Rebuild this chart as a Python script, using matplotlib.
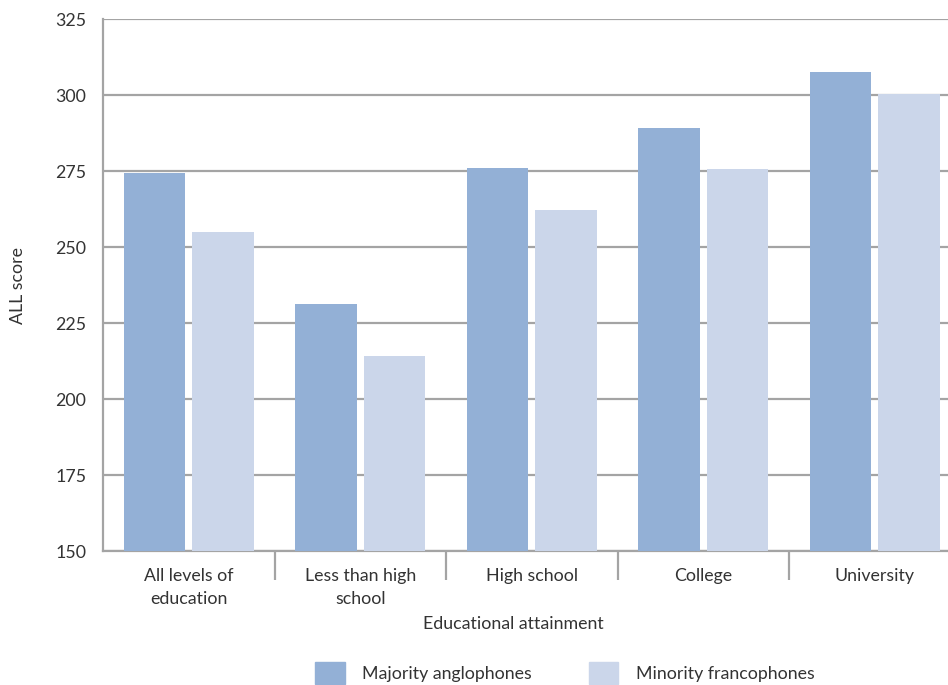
import matplotlib.pyplot as plt
import matplotlib.patches as mpatches
import numpy as np

plt.rcParams['font.family'] = ['Lato', 'DejaVu Sans']

categories = ["All levels of\neducation", "Less than high\nschool", "High school", "College", "University"]
majority = [274.5, 231.3, 276, 289, 307.6]
minority = [255, 214, 262.2, 275.7, 300.3]
series_names = ["Majority anglophones", "Minority francophones"]
yticks = [150, 175, 200, 225, 250, 275, 300, 325]

col_maj = "#93b0d6"
col_min = "#cbd6ea"
grey = "#a4a4a4"
txt = "#333333"
fs = 12.8

fig = plt.figure(figsize=(9.48, 6.85), dpi=100)
ax = fig.add_axes([103/948, 1-551/685, 857.5/948, 532/685])

x = np.arange(len(categories))
w = 0.36
ax.bar(x - 0.2, majority, w, color=col_maj, zorder=3)
ax.bar(x + 0.2, minority, w, color=col_min, zorder=3)

ax.set_xlim(-0.5, len(categories) - 0.5)
ax.set_ylim(150, 325)
ax.set_yticks(yticks)
ax.yaxis.grid(True, color=grey, lw=1.6, zorder=0)
ax.set_axisbelow(True)

for s in ["top", "right"]:
    ax.spines[s].set_visible(False)
for s in ["left", "bottom"]:
    ax.spines[s].set_color(grey)
    ax.spines[s].set_linewidth(1.6)

ax.set_xticks(x)
ax.set_xticklabels(categories, fontsize=fs, color=txt, linespacing=1.55)
ax.set_xticks(x[:-1] + 0.5, minor=True)
ax.tick_params(axis="x", which="major", length=0, pad=12)
ax.tick_params(axis="x", which="minor", length=21, width=1.6, color=grey)
ax.tick_params(axis="y", length=0, pad=12, labelsize=fs, labelcolor=txt)

fig.text(18/948, 1-285/685, "ALL score", rotation=90, ha="center", va="center",
         fontsize=fs, color=txt)
fig.text(513/948, 1-624/685, "Educational attainment", ha="center", va="center",
         fontsize=fs, color=txt)

handles = [mpatches.Patch(color=col_maj), mpatches.Patch(color=col_min)]
fig.legend(handles, series_names, loc="center", bbox_to_anchor=(565/948, 1-673/685),
           ncol=2, frameon=False, fontsize=fs, handlelength=1.66, handleheight=1.55,
           columnspacing=3.2, handletextpad=1.0, labelcolor=txt)

fig.savefig("out.png", dpi=100)
